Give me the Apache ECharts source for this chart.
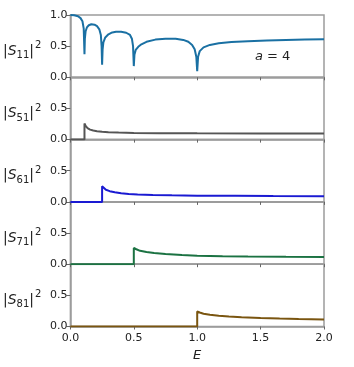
<!DOCTYPE html>
<html>
<head>
<meta charset="utf-8">
<script src="https://cdn.jsdelivr.net/npm/echarts@6/dist/echarts.min.js"></script>
<style>
html, body { margin: 0; padding: 0; background: #fff; }
#chart { width: 354px; height: 367px; }
</style>
</head>
<body>
<div id="chart"></div>
<script>
// |S11|^2 (reflection)
var e11 = [0, 0.03, 0.06, 0.08, 0.095, 0.105, 0.111, 0.114, 0.12, 0.13, 0.145, 0.165, 0.19, 0.21, 0.228, 0.24, 0.246, 0.25, 0.254, 0.26, 0.275, 0.3, 0.33, 0.36, 0.4, 0.44, 0.47, 0.485, 0.494, 0.5, 0.505, 0.515, 0.535, 0.56, 0.6, 0.67, 0.75, 0.83, 0.89, 0.93, 0.96, 0.98, 0.993, 1.0, 1.007, 1.02, 1.05, 1.1, 1.17, 1.27, 1.4, 1.55, 1.7, 1.85, 2.0];
var s11 = [1.0, 0.995, 0.98, 0.95, 0.9, 0.78, 0.37, 0.62, 0.74, 0.8, 0.835, 0.852, 0.845, 0.82, 0.77, 0.68, 0.5, 0.2, 0.45, 0.56, 0.64, 0.69, 0.72, 0.73, 0.73, 0.715, 0.68, 0.62, 0.5, 0.18, 0.36, 0.44, 0.49, 0.53, 0.57, 0.605, 0.62, 0.62, 0.6, 0.57, 0.52, 0.45, 0.33, 0.1, 0.33, 0.42, 0.48, 0.52, 0.545, 0.565, 0.58, 0.59, 0.6, 0.605, 0.61];

var e51 = [0, 0.111, 0.111, 0.12, 0.135, 0.155, 0.18, 0.21, 0.25, 0.3, 0.38, 0.5, 0.7, 1.0, 1.5, 2.0];
var s51 = [0, 0, 0.26, 0.22, 0.185, 0.16, 0.145, 0.135, 0.125, 0.118, 0.112, 0.107, 0.103, 0.1, 0.098, 0.097];

var e61 = [0, 0.25, 0.25, 0.26, 0.28, 0.31, 0.35, 0.4, 0.46, 0.53, 0.65, 0.8, 1.0, 1.3, 1.6, 2.0];
var s61 = [0, 0, 0.25, 0.225, 0.195, 0.172, 0.155, 0.14, 0.128, 0.12, 0.112, 0.105, 0.1, 0.097, 0.094, 0.092];

var e71 = [0, 0.5, 0.5, 0.52, 0.55, 0.6, 0.66, 0.75, 0.88, 1.0, 1.2, 1.4, 1.7, 2.0];
var s71 = [0, 0, 0.26, 0.24, 0.215, 0.195, 0.178, 0.162, 0.146, 0.137, 0.129, 0.123, 0.118, 0.115];

var e81 = [0, 1.0, 1.0, 1.02, 1.05, 1.1, 1.17, 1.25, 1.35, 1.5, 1.65, 1.8, 2.0];
var s81 = [0, 0, 0.24, 0.225, 0.205, 0.188, 0.172, 0.16, 0.148, 0.136, 0.127, 0.12, 0.113];

var panelE = [e11, e51, e61, e71, e81];
var panelS = [s11, s51, s61, s71, s81];
var subscripts = ['11', '51', '61', '71', '81'];
var colors = ['#1a70a3', '#555555', '#1a1ad2', '#1b7242', '#7a5510'];

var axisGray = '#9c9c9c';
var font = 'DejaVu Sans';

function pairs(xs, ys) {
    var out = [];
    for (var i = 0; i < xs.length; i++) out.push([xs[i], ys[i]]);
    return out;
}

var chart = echarts.init(document.getElementById('chart'));

var grids = [], xAxes = [], yAxes = [], series = [];
var top0 = 15, h = 62.3;
for (var i = 0; i < 5; i++) {
    var last = i === 4;
    var first = i === 0;
    grids.push({
        left: 67, right: 30, top: top0 + i * h, height: h,
        show: true, borderColor: axisGray, borderWidth: 1.5, backgroundColor: 'transparent'
    });
    xAxes.push({
        type: 'value', gridIndex: i, min: 0, max: 2, interval: 0.5,
        axisLine: { show: true, lineStyle: { color: axisGray, width: 1.5 } },
        axisTick: { show: true, length: 3, lineStyle: { color: '#666' } },
        axisLabel: {
            show: last, margin: 6, fontFamily: font, fontSize: 11, color: '#222',
            formatter: function (v) { return v.toFixed(1); }
        },
        splitLine: { show: false },
        name: last ? 'E' : '',
        nameLocation: 'middle', nameGap: 23,
        nameTextStyle: { fontFamily: font, fontSize: 13, fontStyle: 'italic', color: '#222' }
    });
    yAxes.push({
        type: 'value', gridIndex: i, min: 0, max: 1, interval: 0.5,
        axisLine: { show: true, lineStyle: { color: axisGray, width: 1.5 } },
        axisTick: { show: true, length: 4, lineStyle: { color: '#666' } },
        axisLabel: {
            margin: 3, fontFamily: font, fontSize: 11, color: '#222',
            formatter: (function (isFirst) {
                return function (v) { return (!isFirst && v === 1) ? '' : v.toFixed(1); };
            })(first)
        },
        splitLine: { show: false },
        name: '{n||}{i|S}{sub|' + subscripts[i] + '}{n||}{sup|2}',
        nameLocation: 'middle', nameRotate: 0, nameGap: 29,
        nameTextStyle: {
            padding: [10, 0, 0, 0],
            rich: {
                n: { fontFamily: font, fontSize: 14, color: '#222' },
                i: { fontFamily: font, fontSize: 14, fontStyle: 'italic', color: '#222' },
                sub: { fontFamily: font, fontSize: 10, color: '#222', padding: [9, 0, 0, 0] },
                sup: { fontFamily: font, fontSize: 10, color: '#222', padding: [0, 0, 11, 1] }
            }
        }
    });
    series.push({
        type: 'line', xAxisIndex: i, yAxisIndex: i,
        data: pairs(panelE[i], panelS[i]),
        showSymbol: false, symbol: 'none', clip: true,
        lineStyle: { color: colors[i], width: 2 },
        animation: false
    });
}

chart.setOption({
    animation: false,
    grid: grids,
    xAxis: xAxes,
    yAxis: yAxes,
    series: series,
    graphic: [{
        type: 'text', left: 255, top: 50,
        style: {
            text: '{i|a}{n| = 4}',
            rich: {
                i: { fontFamily: font, fontSize: 13, fontStyle: 'italic', fill: '#222' },
                n: { fontFamily: font, fontSize: 13, fill: '#222' }
            }
        }
    }]
});
window.addEventListener('resize', function () { chart.resize(); });
</script>
</body>
</html>
